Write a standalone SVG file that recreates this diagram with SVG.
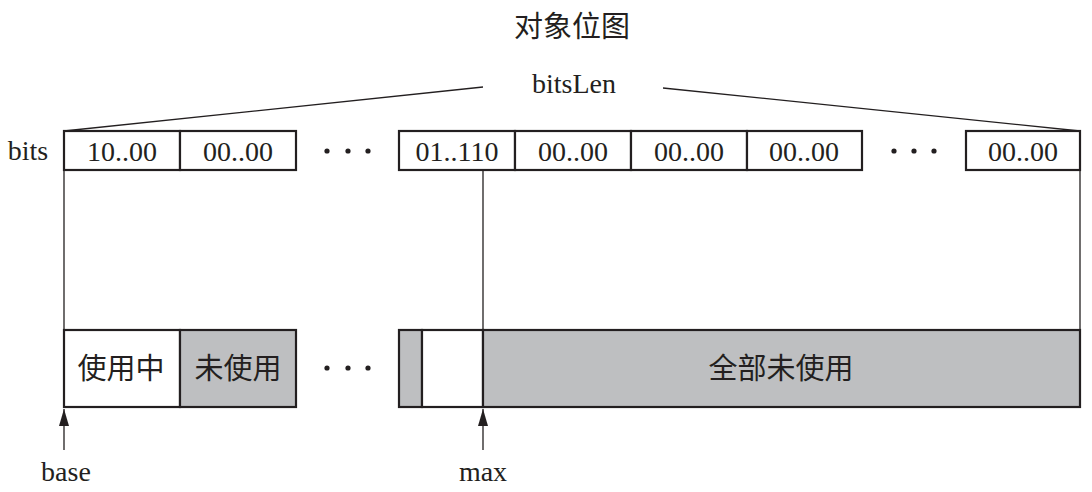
<svg xmlns="http://www.w3.org/2000/svg" width="1092" height="492" viewBox="0 0 1092 492">
<defs>
<style>
.box{fill:#fff;stroke:#231f20;stroke-width:2.2}
.grey{fill:#bebfc1;stroke:#231f20;stroke-width:2.2}
.ln{stroke:#231f20;stroke-width:1.3;fill:none}
.num{font-family:"Liberation Serif",serif;font-size:28px;fill:#231f20;text-anchor:middle}
.cjk{font-family:"Liberation Serif","Noto Sans CJK SC",serif;font-size:29px;fill:#231f20;text-anchor:middle}
.dot{fill:#231f20}
</style>
<marker id="arr" markerWidth="18" markerHeight="10" refX="17" refY="5" orient="auto" markerUnits="userSpaceOnUse" viewBox="0 0 18 10">
<path d="M0,0 L17,5 L0,10 Z" fill="#231f20"/>
</marker>
</defs>
<rect width="1092" height="492" fill="#fff"/>
<text id="title" class="cjk" x="572" y="37" font-size="28">对象位图</text>
<text id="bitsLen" class="num" x="574" y="93" font-size="29">bitsLen</text>
<text id="bitsLabel" class="num" x="28" y="160">bits</text>
<g id="connectors">
<line class="ln" x1="64" y1="131" x2="483" y2="87"/>
<line class="ln" x1="663" y1="88" x2="1080" y2="131"/>
<line class="ln" x1="64" y1="170" x2="64" y2="330"/>
<line class="ln" x1="483" y1="170" x2="483" y2="330"/>
<line class="ln" x1="1080" y1="170" x2="1080" y2="330"/>
<line class="ln" x1="64" y1="450" x2="64" y2="409" marker-end="url(#arr)"/>
<line class="ln" x1="483" y1="450" x2="483" y2="409" marker-end="url(#arr)"/>
</g>
<g id="word1"><rect class="box" x="64" y="131" width="116" height="39"/><text class="num" x="122" y="161">10..00</text></g>
<g id="word2"><rect class="box" x="180" y="131" width="116" height="39"/><text class="num" x="238" y="161">00..00</text></g>
<g id="dots1"><circle class="dot" cx="327" cy="151" r="2.6"/><circle class="dot" cx="348" cy="151" r="2.6"/><circle class="dot" cx="368" cy="151" r="2.6"/></g>
<g id="word3"><rect class="box" x="399" y="131" width="116" height="39"/><text class="num" x="457" y="161">01..110</text></g>
<g id="word4"><rect class="box" x="515" y="131" width="116" height="39"/><text class="num" x="573" y="161">00..00</text></g>
<g id="word5"><rect class="box" x="631" y="131" width="116" height="39"/><text class="num" x="689" y="161">00..00</text></g>
<g id="word6"><rect class="box" x="747" y="131" width="115" height="39"/><text class="num" x="804" y="161">00..00</text></g>
<g id="dots2"><circle class="dot" cx="894" cy="151" r="2.6"/><circle class="dot" cx="914" cy="151" r="2.6"/><circle class="dot" cx="934" cy="151" r="2.6"/></g>
<g id="wordLast"><rect class="box" x="966" y="131" width="114" height="39"/><text class="num" x="1023" y="161">00..00</text></g>
<g id="heap1"><rect class="box" x="64" y="330" width="116" height="77"/><text class="cjk" x="121" y="379">使用中</text></g>
<g id="heap2"><rect class="grey" x="180" y="330" width="116" height="77"/><text class="cjk" x="238" y="379">未使用</text></g>
<g id="dots3"><circle class="dot" cx="327" cy="368" r="2.6"/><circle class="dot" cx="348" cy="368" r="2.6"/><circle class="dot" cx="368" cy="368" r="2.6"/></g>
<g id="heap3"><rect class="grey" x="399" y="330" width="23" height="77"/></g>
<g id="heap4"><rect class="box" x="422" y="330" width="61" height="77"/></g>
<g id="heap5"><rect class="grey" x="483" y="330" width="597" height="77"/><text class="cjk" x="781" y="379">全部未使用</text></g>
<text id="base" class="num" x="66" y="481">base</text>
<text id="max" class="num" x="483" y="481">max</text>
</svg>
